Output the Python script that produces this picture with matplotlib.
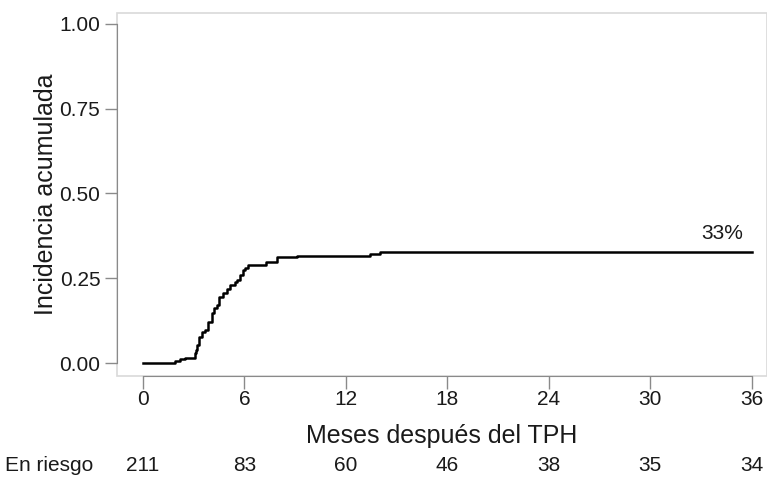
import matplotlib
matplotlib.use("Agg")
import matplotlib.pyplot as plt
import matplotlib.transforms as mtransforms

plt.rcParams['font.family'] = ['Liberation Sans', 'DejaVu Sans']

# curva de incidencia acumulada (meses, valor)
meses = [0, 1.9, 2.19, 2.48, 3.07, 3.15, 3.21, 3.33, 3.47, 3.66, 3.86, 4.06, 4.21,
         4.35, 4.51, 4.75, 4.94, 5.14, 5.44, 5.54, 5.73, 5.9, 6.03, 6.22, 7.27,
         7.9, 9.08, 13.4, 14.0, 36]
incidencia = [0, 0.006, 0.011, 0.016, 0.03, 0.038, 0.053, 0.078, 0.092, 0.097, 0.122,
              0.147, 0.161, 0.171, 0.196, 0.207, 0.217, 0.23, 0.238, 0.245, 0.26,
              0.274, 0.281, 0.289, 0.297, 0.312, 0.316, 0.321, 0.327, 0.327]

xticks = [0, 6, 12, 18, 24, 30, 36]
yticks = [0, 0.25, 0.5, 0.75, 1.0]
en_riesgo = [211, 83, 60, 46, 38, 35, 34]

txt = '#1a1a1a'
fig = plt.figure(figsize=(7.67, 4.79), dpi=100)
ax = fig.add_axes([0.1525, 0.215, 0.8475, 0.758])

ax.step(meses, incidencia, where='post', color='black', lw=1.8)
ax.text(35.5, 0.355, '33%', ha='right', va='bottom', fontsize=15, color=txt)

ax.set_xlim(-1.54, 36.9)
ax.set_ylim(-0.038, 1.032)
ax.set_xticks(xticks)
ax.set_yticks(yticks)
ax.set_yticklabels(['%.2f' % v for v in yticks])

for s in ['top', 'right']:
    ax.spines[s].set_visible(False)
ax.spines['left'].set_bounds(0, 1)
ax.spines['bottom'].set_bounds(0, 36)
ax.spines['left'].set_color('#8a8a8a')
ax.spines['bottom'].set_color('#8a8a8a')
ax.patch.set_edgecolor('#d9d9d9')
ax.patch.set_linewidth(1.2)

ax.tick_params(axis='both', colors='#8a8a8a', labelcolor=txt, labelsize=15,
               length=9, width=1)
ax.tick_params(axis='x', pad=1)
ax.tick_params(axis='y', pad=3)

ax.set_ylabel('Incidencia acumulada', fontsize=18, color=txt, labelpad=1)
ax.set_xlabel('Meses después del TPH', fontsize=18, color=txt, labelpad=11)

trans = mtransforms.blended_transform_factory(ax.transData, fig.transFigure)
fig.text(0.007, 0.029, 'En riesgo', ha='left', va='center', fontsize=15, color=txt)
for x, n in zip(xticks, en_riesgo):
    ax.text(x, 0.029, str(n), transform=trans, ha='center', va='center',
            fontsize=15, color=txt)

fig.savefig('out.png', dpi=100)
